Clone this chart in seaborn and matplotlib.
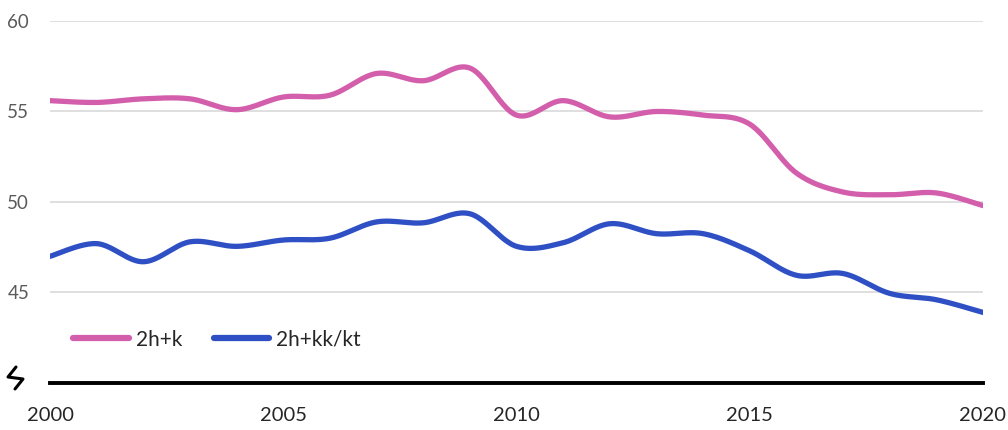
import matplotlib
matplotlib.use("Agg")
import matplotlib.pyplot as plt
from matplotlib.lines import Line2D
import numpy as np
import pandas as pd
import seaborn as sns

years = list(range(2000, 2021))
series_names = ["2h+k", "2h+kk/kt"]
share_2hk = [55.6, 55.5, 55.7, 55.7, 55.1, 55.8, 55.9, 57.1, 56.7, 57.4, 54.8,
             55.6, 54.7, 55.0, 54.8, 54.3, 51.6, 50.55, 50.4, 50.5, 49.8]
share_2hkk = [47.0, 47.7, 46.7, 47.8, 47.55, 47.9, 48.0, 48.9, 48.85, 49.35, 47.55,
              47.75, 48.8, 48.25, 48.25, 47.3, 45.95, 46.05, 44.95, 44.6, 43.9]
y_ticks = [45, 50, 55, 60]
x_ticks = [2000, 2005, 2010, 2015, 2020]
colors = ["#d35fac", "#2f50c4"]


def smooth(xs, ys, n=24):
    # Catmull-Rom curve through the points, like a spreadsheet "smoothed line"
    p = np.column_stack([xs, ys]).astype(float)
    p = np.vstack([p[0], p, p[-1]])
    out = []
    t = np.linspace(0, 1, n, endpoint=False)[:, None]
    for i in range(1, len(p) - 2):
        p0, p1, p2, p3 = p[i - 1], p[i], p[i + 1], p[i + 2]
        seg = 0.5 * ((2 * p1) + (-p0 + p2) * t + (2 * p0 - 5 * p1 + 4 * p2 - p3) * t ** 2
                     + (-p0 + 3 * p1 - 3 * p2 + p3) * t ** 3)
        out.append(seg)
    out.append(p[-2][None, :])
    return np.vstack(out)


frames = []
for name, vals in zip(series_names, [share_2hk, share_2hkk]):
    c = smooth(years, vals)
    frames.append(pd.DataFrame({"year": c[:, 0], "value": c[:, 1], "series": name}))
df = pd.concat(frames, ignore_index=True)

sns.set_style("white")
plt.rcParams["font.family"] = ["Lato", "DejaVu Sans"]

fig = plt.figure(figsize=(10.08, 4.30), dpi=100)
ax = fig.add_axes([50 / 1008, 1 - 383 / 430, 933 / 1008, 362 / 430])

sns.lineplot(data=df, x="year", y="value", hue="series", palette=colors,
             sort=False, estimator=None, linewidth=3.8, ax=ax)

ax.set_xlim(2000, 2020)
ax.set_ylim(40, 60)
ax.set_yticks(y_ticks)
ax.set_xticks(x_ticks)
ax.yaxis.grid(True, color="#d9d9d9", linewidth=1.2)
ax.set_axisbelow(True)
for s in ["top", "right", "left"]:
    ax.spines[s].set_visible(False)
ax.spines["bottom"].set_color("black")
ax.spines["bottom"].set_linewidth(2.8)
ax.tick_params(axis="y", length=0, pad=15, labelsize=13.5, labelcolor="#5a5a5a")
ax.tick_params(axis="x", length=0, pad=17, labelsize=14.5, labelcolor="#262626")
ax.set_xlabel("")
ax.set_ylabel("")

leg = ax.legend(loc="lower left", bbox_to_anchor=(0.005, 0.04), ncol=2, frameon=False,
                fontsize=15, handlelength=2.65, handletextpad=0.35, columnspacing=1.5)
for h in leg.get_lines():
    h.set_linewidth(4.5)
for t in leg.get_texts():
    t.set_color("#262626")

# axis-break mark left of the baseline
bx = np.array([16, 8, 23, 15]) / 1008
by = 1 - np.array([367, 377, 379, 389]) / 430
fig.add_artist(Line2D(bx, by, transform=fig.transFigure, color="black", linewidth=2.2))

fig.savefig("out.png", dpi=100)
